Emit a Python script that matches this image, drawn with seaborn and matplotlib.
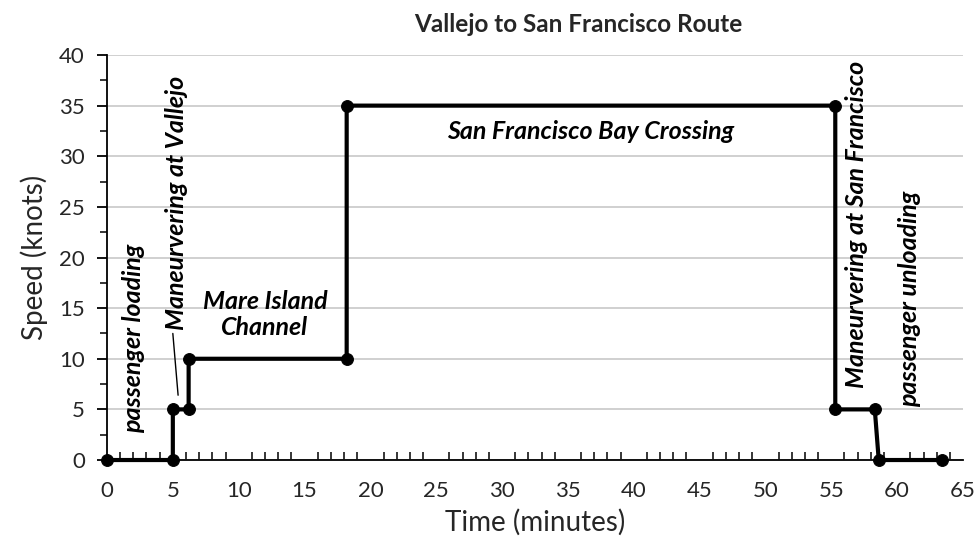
import matplotlib
matplotlib.use("Agg")
import matplotlib.pyplot as plt
import seaborn as sns
import pandas as pd
from matplotlib.ticker import MultipleLocator

time_min = [0, 5, 5, 6.2, 6.2, 18.2, 18.2, 55.3, 55.3, 58.3, 58.6, 63.4]
speed_kn = [0, 0, 5, 5, 10, 10, 35, 35, 5, 5, 0, 0]
x_ticks = list(range(0, 66, 5))
y_ticks = list(range(0, 41, 5))

sns.set_theme(style="white")
plt.rcParams['font.family'] = ['Lato', 'DejaVu Sans']

df = pd.DataFrame({"Time": time_min, "Speed": speed_kn})

fig = plt.figure(figsize=(9.77, 5.5), dpi=100)
ax = fig.add_axes([0.1095, 0.1636, 0.8762, 0.7364])

sns.lineplot(data=df, x="Time", y="Speed", sort=False, estimator=None, ax=ax,
             color="black", linewidth=3, marker="o", markersize=8.5,
             markeredgecolor="black", zorder=5, clip_on=False)

ax.set_xlim(0, 65)
ax.set_ylim(0, 40)
ax.set_xticks(x_ticks)
ax.set_yticks(y_ticks)
ax.xaxis.set_minor_locator(MultipleLocator(1))
ax.yaxis.set_minor_locator(MultipleLocator(2.5))
ax.grid(axis="y", which="major", color="#c8c8c8", linewidth=1.2)
ax.set_axisbelow(True)
for s in ["top", "right"]:
    ax.spines[s].set_visible(False)
for s in ["left", "bottom"]:
    ax.spines[s].set_color("black")
    ax.spines[s].set_linewidth(1.3)

ax.tick_params(axis="x", which="major", direction="inout", length=12, width=1.3,
               color="black", labelsize=16, pad=9)
ax.tick_params(axis="x", which="minor", direction="in", length=6, width=1.1,
               color="black", bottom=True)
ax.tick_params(axis="y", which="major", direction="out", length=7, width=1.3,
               color="black", labelsize=16, left=True, pad=9)
ax.tick_params(axis="y", which="minor", direction="out", length=5, width=1.1,
               color="black", left=True)

ax.set_xlabel("Time (minutes)", fontsize=20, labelpad=6)
ax.set_ylabel("Speed (knots)", fontsize=20, labelpad=8)
fig.text(0.592, 0.955, "Vallejo to San Francisco Route", fontsize=17.5,
         fontweight="bold", ha="center", va="center")

tkw = dict(fontweight="bold", fontstyle="italic", fontsize=18, color="black")
ax.text(2.0, 12.0, "passenger loading", rotation=90, ha="center", va="center", **tkw)
ax.text(5.3, 25.4, "Maneurvering at Vallejo", rotation=90, ha="center", va="center", **tkw)
ax.plot([5.0, 5.4], [12.5, 6.4], color="black", linewidth=1)
ax.text(12.0, 14.4, "Mare Island\nChannel", ha="center", va="center", linespacing=1.15, **tkw)
ax.text(36.7, 32.4, "San Francisco Bay Crossing", ha="center", va="center", **tkw)
ax.text(56.9, 23.3, "Maneurvering at San Francisco", rotation=90, ha="center", va="center", **tkw)
ax.text(60.9, 15.9, "passenger unloading", rotation=90, ha="center", va="center", **tkw)

fig.savefig("out.png", dpi=100)
